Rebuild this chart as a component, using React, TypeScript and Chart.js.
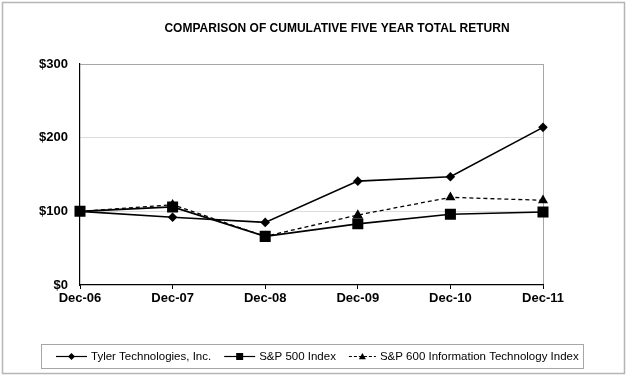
import React, { useEffect, useRef } from "react";
import { Chart, registerables } from "chart.js";

Chart.register(...registerables);

const categories = ["Dec-06", "Dec-07", "Dec-08", "Dec-09", "Dec-10", "Dec-11"];
const tylerValues = [100, 92, 85, 141, 147, 214];
const sp500Values = [100, 106, 66, 83, 96, 99];
const sp600ItValues = [100, 109, 66, 95, 119, 115];
const seriesNames = [
  "Tyler Technologies, Inc.",
  "S&P 500 Index",
  "S&P 600 Information Technology Index",
];
const yMin = 0;
const yMax = 300;
const yStep = 100;
const titleText = "COMPARISON OF CUMULATIVE FIVE YEAR TOTAL RETURN";

const FONT = '"Liberation Sans", Arial, sans-serif';

function drawMarker(ctx: CanvasRenderingContext2D, kind: string, x: number, y: number) {
  ctx.beginPath();
  if (kind === "diamond") {
    const r = 3.5;
    ctx.moveTo(x, y - r);
    ctx.lineTo(x + r, y);
    ctx.lineTo(x, y + r);
    ctx.lineTo(x - r, y);
  } else if (kind === "square") {
    const s = 3.5;
    ctx.rect(x - s, y - s, 2 * s, 2 * s);
  } else {
    const r = 3.5;
    ctx.moveTo(x, y - r);
    ctx.lineTo(x + r, y + r * 0.75);
    ctx.lineTo(x - r, y + r * 0.75);
  }
  ctx.closePath();
  ctx.fill();
}

const decorPlugin = {
  id: "decor",
  afterDraw(chart: any) {
    const ctx: CanvasRenderingContext2D = chart.ctx;
    ctx.save();
    // outer frame
    ctx.strokeStyle = "#b5b5b5";
    ctx.lineWidth = 1.5;
    ctx.strokeRect(2.5, 2.5, 622, 371);
    // title
    ctx.fillStyle = "#000";
    ctx.font = `bold 12px ${FONT}`;
    ctx.textAlign = "center";
    ctx.textBaseline = "middle";
    ctx.fillText(titleText, 337, 29);
    // legend box
    ctx.strokeStyle = "#a6a6a6";
    ctx.lineWidth = 1;
    ctx.strokeRect(41.5, 344.5, 542, 24);
    const cy = 356.5;
    const kinds = ["diamond", "square", "triangle"];
    const dashed = [false, false, true];
    ctx.font = `11.5px ${FONT}`;
    ctx.textAlign = "left";
    let x = 56;
    for (let i = 0; i < seriesNames.length; i++) {
      const sw = i === 2 ? 27 : 31;
      ctx.strokeStyle = "#000";
      ctx.lineWidth = 1.2;
      ctx.setLineDash(dashed[i] ? [3, 2] : []);
      ctx.beginPath();
      ctx.moveTo(x, cy);
      ctx.lineTo(x + sw, cy);
      ctx.stroke();
      ctx.setLineDash([]);
      ctx.fillStyle = "#000";
      drawMarker(ctx, kinds[i], x + sw / 2, cy);
      const tx = x + sw + 4;
      ctx.fillStyle = "#000";
      ctx.fillText(seriesNames[i], tx, cy);
      x = tx + ctx.measureText(seriesNames[i]).width + 13;
    }
    ctx.restore();
  },
};

export default function App() {
  const ref = useRef<HTMLCanvasElement | null>(null);
  useEffect(() => {
    document.body.style.margin = "0";
    const canvas = ref.current;
    if (!canvas) return;
    const chart = new Chart(canvas, {
      type: "line",
      data: {
        labels: categories,
        datasets: [
          {
            label: seriesNames[0],
            data: tylerValues,
            borderColor: "#000",
            backgroundColor: "#000",
            borderWidth: 1.6,
            pointStyle: "rectRot",
            pointRadius: 4.8,
            pointBorderWidth: 0,
            tension: 0,
          },
          {
            label: seriesNames[1],
            data: sp500Values,
            borderColor: "#000",
            backgroundColor: "#000",
            borderWidth: 1.6,
            pointStyle: "rect",
            pointRadius: 7.8,
            pointBorderWidth: 0,
            tension: 0,
          },
          {
            label: seriesNames[2],
            data: sp600ItValues,
            borderColor: "#000",
            backgroundColor: "#000",
            borderWidth: 1.3,
            borderDash: [4, 3],
            pointStyle: "triangle",
            pointRadius: 5.8,
            pointBorderWidth: 0,
            tension: 0,
          },
        ],
      },
      options: {
        responsive: false,
        animation: false,
        events: [],
        layout: { padding: { top: 64, left: 0, right: 85, bottom: 72 } },
        plugins: {
          legend: { display: false },
          title: { display: false },
          tooltip: { enabled: false },
        },
        scales: {
          x: {
            type: "category",
            offset: false,
            grid: {
              color: (c: any) => (c.index === categories.length - 1 ? "#a6a6a6" : "rgba(0,0,0,0)"),
              tickColor: "#000",
              tickLength: 4,
              lineWidth: 1,
            },
            border: { color: "#000", width: 1.2 },
            ticks: {
              color: "#000",
              font: { family: FONT, size: 13, weight: "bold" },
              padding: 2,
              maxRotation: 0,
              autoSkip: false,
            },
            afterFit: (s: any) => {
              s.height = 20;
            },
          },
          y: {
            min: yMin,
            max: yMax,
            grid: {
              color: (c: any) =>
                c.tick && c.tick.value === yMax ? "#a6a6a6" : c.tick && c.tick.value === yMin ? "rgba(0,0,0,0)" : "#dcdcdc",
              drawTicks: false,
              lineWidth: 1,
            },
            border: { color: "#000", width: 1.2 },
            ticks: {
              stepSize: yStep,
              color: "#000",
              font: { family: FONT, size: 13, weight: "bold" },
              padding: 12,
              callback: (v: any) => "$" + v,
            },
            afterFit: (s: any) => {
              s.width = 80;
            },
          },
        },
      },
      plugins: [decorPlugin],
    } as any);
    return () => chart.destroy();
  }, []);
  return (
    <div style={{ position: "absolute", left: 0, top: 0, width: 628, height: 377, background: "#fff" }}>
      <canvas ref={ref} width={628} height={377} style={{ display: "block", width: 628, height: 377 }} />
    </div>
  );
}
